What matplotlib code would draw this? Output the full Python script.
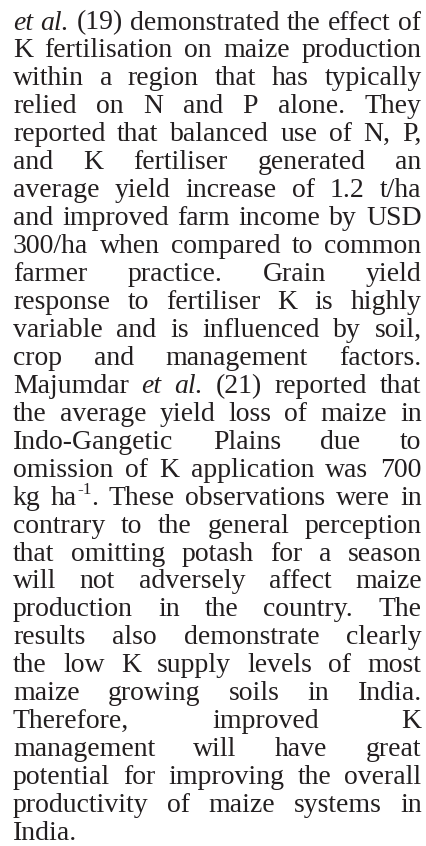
import matplotlib
matplotlib.use("Agg")
import matplotlib.pyplot as plt
from matplotlib.font_manager import findfont, FontProperties
from matplotlib.ft2font import FT2Font

# ---- text content (one entry per printed line; *word* = italic, ^ = superscript) ----
lines = [
    "*et* *al.* (19) demonstrated the effect of",
    "K fertilisation on maize production",
    "within a region that has typically",
    "relied on N and P alone. They",
    "reported that balanced use of N, P,",
    "and K fertiliser generated an",
    "average yield increase of 1.2 t/ha",
    "and improved farm income by USD",
    "300/ha when compared to common",
    "farmer practice. Grain yield",
    "response to fertiliser K is highly",
    "variable and is influenced by soil,",
    "crop and management factors.",
    "Majumdar *et* *al.* (21) reported that",
    "the average yield loss of maize in",
    "Indo-Gangetic Plains due to",
    "omission of K application was 700",
    "kg ha^-1^. These observations were in",
    "contrary to the general perception",
    "that omitting potash for a season",
    "will not adversely affect maize",
    "production in the country. The",
    "results also demonstrate clearly",
    "the low K supply levels of most",
    "maize growing soils in India.",
    "Therefore, improved K",
    "management will have great",
    "potential for improving the overall",
    "productivity of maize systems in",
    "India.",
]

FAMILY = "Liberation Serif"
COLOR = "#231f20"
W, H, DPI = 427, 846, 100
LEFT, RIGHT = 13.0, 421.5
FIRST_BASE, LEAD = 29.5, 27.95
SUP_SCALE, SUP_RISE = 0.62, 0.40

_fonts = {}


def get_font(style, size_pt):
    if style not in _fonts:
        _fonts[style] = FT2Font(findfont(FontProperties(family=FAMILY, style=style)))
    f = _fonts[style]
    f.set_size(size_pt, DPI)
    return f


def advance(s, style, size_pt):
    f = get_font(style, size_pt)
    x = 0.0
    prev = None
    for ch in s:
        gi = f.get_char_index(ord(ch))
        if prev is not None:
            try:
                x += f.get_kerning(prev, gi, 0) / 64.0
            except Exception:
                pass
        g = f.load_glyph(gi)
        x += g.linearHoriAdvance / 65536.0
        prev = gi
    return x


def parse_word(w):
    """Return list of segments (text, style, scale, rise_em)."""
    if w.startswith("*") and w.endswith("*"):
        return [(w[1:-1], "italic", 1.0, 0.0)]
    if "^" in w:
        a, sup, b = w.split("^")
        segs = [(a, "normal", 1.0, 0.0), (sup, "normal", SUP_SCALE, SUP_RISE)]
        if b:
            segs.append((b, "normal", 1.0, 0.0))
        return segs
    return [(w, "normal", 1.0, 0.0)]


def word_width(segs, size):
    return sum(advance(t, st, size * sc) for t, st, sc, _ in segs)


parsed = [[parse_word(w) for w in ln.split()] for ln in lines]

# choose font size so that the widest natural line fits the column
base = 18.0
avail = RIGHT - LEFT
worst = 0.0
for words in parsed:
    nat = sum(word_width(s, base) for s in words) + advance(" ", "normal", base) * (len(words) - 1)
    worst = max(worst, nat / avail)
SIZE = base / worst * 0.995

fig = plt.figure(figsize=(W / DPI, H / DPI), dpi=DPI)
fig.patch.set_facecolor("white")
ax = fig.add_axes([0, 0, 1, 1])
ax.set_xlim(0, W)
ax.set_ylim(H, 0)
ax.axis("off")

for i, words in enumerate(parsed):
    y = FIRST_BASE + LEAD * i
    widths = [word_width(s, SIZE) for s in words]
    last = i == len(parsed) - 1
    if last or len(words) == 1:
        gap = advance(" ", "normal", SIZE)
    else:
        gap = (avail - sum(widths)) / (len(words) - 1)
    x = LEFT
    for segs, w in zip(words, widths):
        sx = x
        for t, st, sc, rise in segs:
            ax.text(sx, y - rise * SIZE * DPI / 72.0, t, fontsize=SIZE * sc,
                    family=FAMILY, style=st, color=COLOR,
                    ha="left", va="baseline")
            sx += advance(t, st, SIZE * sc)
        x += w + gap

fig.savefig("out.png", dpi=DPI, facecolor="white")
